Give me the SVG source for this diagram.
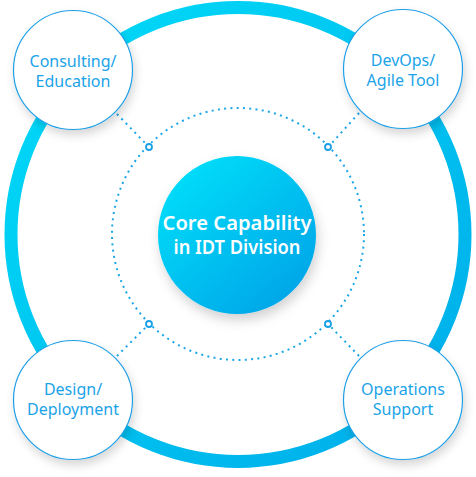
<svg xmlns="http://www.w3.org/2000/svg" width="476" height="477" viewBox="0 0 476 477">
  <defs>
    <linearGradient id="ringGrad" x1="0" y1="0" x2="1" y2="1">
      <stop offset="0" stop-color="#00dcf8"/>
      <stop offset="1" stop-color="#00abe9"/>
    </linearGradient>
    <linearGradient id="coreGrad" x1="0.15" y1="0.1" x2="0.85" y2="0.9">
      <stop offset="0" stop-color="#00dcf9"/>
      <stop offset="1" stop-color="#00a6e8"/>
    </linearGradient>
    <filter id="shadow" x="-30%" y="-30%" width="160%" height="170%">
      <feDropShadow dx="2" dy="5" stdDeviation="5" flood-color="#000" flood-opacity="0.16"/>
    </filter>
    <filter id="coreShadow" x="-30%" y="-30%" width="160%" height="170%">
      <feDropShadow dx="2" dy="6" stdDeviation="6" flood-color="#000" flood-opacity="0.18"/>
    </filter>
  </defs>
  <style>
    .dot { fill: none; stroke: #1aa6e8; stroke-width: 2; stroke-dasharray: 2 4.3; }
    .knob { fill: #fff; stroke: #1aa0e6; stroke-width: 1.8; }
    .sat { fill: #fff; stroke: #1f9fe6; stroke-width: 1.2; }
    .satText { font-family: "Noto Sans", "Open Sans", sans-serif; font-size: 16px; fill: #1ba3e8; text-anchor: middle; }
    .coreText { font-family: "Noto Sans", "Open Sans", sans-serif; font-size: 20px; font-weight: 600; fill: #fff; text-anchor: middle; }
  </style>

  <rect width="476" height="477" fill="#fff"/>

  <circle cx="238" cy="234.5" r="227" fill="none" stroke="url(#ringGrad)" stroke-width="13"/>

  <circle class="dot" cx="238" cy="234" r="126"/>

  <g id="connectors">
    <line class="dot" x1="117" y1="114" x2="146" y2="144"/>
    <line class="dot" x1="359" y1="113" x2="331" y2="144"/>
    <line class="dot" x1="117" y1="356" x2="146" y2="327"/>
    <line class="dot" x1="359" y1="356" x2="331" y2="327"/>
    <circle class="knob" cx="149" cy="147" r="3"/>
    <circle class="knob" cx="328" cy="147" r="3"/>
    <circle class="knob" cx="149" cy="324" r="3"/>
    <circle class="knob" cx="328" cy="324" r="3"/>
  </g>

  <g id="core">
    <circle cx="237" cy="235" r="79" fill="url(#coreGrad)" filter="url(#coreShadow)"/>
    <text class="coreText" x="237" y="230" textLength="149" lengthAdjust="spacingAndGlyphs">Core Capability</text>
    <text class="coreText" x="237" y="254" textLength="127" lengthAdjust="spacingAndGlyphs">in IDT Division</text>
  </g>

  <g id="consulting">
    <circle class="sat" cx="73" cy="70" r="59.5" filter="url(#shadow)"/>
    <text class="satText" x="73" y="67">Consulting/</text>
    <text class="satText" x="73" y="87">Education</text>
  </g>

  <g id="devops">
    <circle class="sat" cx="403" cy="69" r="59.5" filter="url(#shadow)"/>
    <text class="satText" x="403" y="66">DevOps/</text>
    <text class="satText" x="403" y="86">Agile Tool</text>
  </g>

  <g id="design">
    <circle class="sat" cx="73" cy="400" r="59.5" filter="url(#shadow)"/>
    <text class="satText" x="73" y="395">Design/</text>
    <text class="satText" x="73" y="415">Deployment</text>
  </g>

  <g id="operations">
    <circle class="sat" cx="403" cy="400" r="59.5" filter="url(#shadow)"/>
    <text class="satText" x="403" y="395">Operations</text>
    <text class="satText" x="403" y="415">Support</text>
  </g>
</svg>
